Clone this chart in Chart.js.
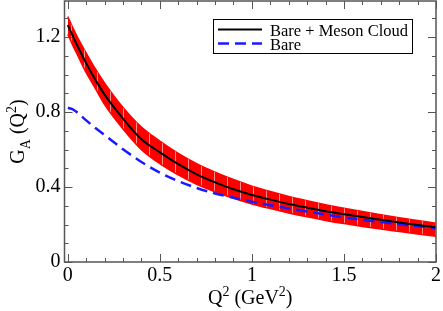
<!DOCTYPE html>
<html>
<head>
<meta charset="utf-8">
<script src="https://cdn.jsdelivr.net/npm/chart.js@4.4.1/dist/chart.umd.min.js"></script>
<style>
  html, body { margin: 0; padding: 0; background: #fff; }
  #wrap { width: 443px; height: 311px; }
</style>
</head>
<body>
<div id="wrap"><canvas id="chart"></canvas></div>
<script>
const qValues = [0, 0.025, 0.05, 0.1, 0.15, 0.2, 0.3, 0.4, 0.5, 0.6, 0.7, 0.8, 0.9, 1.0, 1.1, 1.2, 1.3, 1.4, 1.5, 1.6, 1.7, 1.8, 1.9, 2.0];
const fullValues = [1.265, 1.21, 1.158, 1.06, 0.972, 0.893, 0.765, 0.655, 0.585, 0.522, 0.468, 0.425, 0.388, 0.358, 0.333, 0.31, 0.29, 0.271, 0.255, 0.24, 0.225, 0.211, 0.198, 0.186];
const bareValues = [0.823, 0.816, 0.799, 0.756, 0.715, 0.678, 0.602, 0.534, 0.477, 0.432, 0.395, 0.366, 0.343, 0.322, 0.303, 0.286, 0.269, 0.253, 0.238, 0.225, 0.213, 0.202, 0.191, 0.18];
const bandUpper = [1.31, 1.255, 1.205, 1.115, 1.03, 0.955, 0.825, 0.72, 0.645, 0.58, 0.525, 0.48, 0.44, 0.405, 0.376, 0.35, 0.327, 0.306, 0.287, 0.269, 0.252, 0.236, 0.221, 0.207];
const bandLower = [1.215, 1.16, 1.11, 1.01, 0.925, 0.84, 0.71, 0.6, 0.525, 0.465, 0.415, 0.375, 0.34, 0.31, 0.285, 0.262, 0.241, 0.222, 0.205, 0.19, 0.176, 0.163, 0.15, 0.138];

const xTicks = [0, 0.5, 1, 1.5, 2];
const yTicks = [0, 0.4, 0.8, 1.2];
const xMinor = 0.1;
const yMinor = 0.1;

const FONT = "'Liberation Serif', 'Times New Roman', serif";

const pts = (ys) => qValues.map((q, i) => ({ x: q, y: ys[i] }));

// red band with faint vertical streaks
function hatch() {
  const c = document.createElement("canvas");
  c.width = 13; c.height = 4;
  const g = c.getContext("2d");
  g.fillStyle = "#ff0000";
  g.fillRect(0, 0, 13, 4);
  g.fillStyle = "#ff8c8c";
  g.fillRect(6, 0, 1, 4);
  return g.createPattern(c, "repeat");
}

function richText(ctx, parts, x, y, size) {
  const small = Math.round(size * 0.68);
  let w = 0;
  parts.forEach((p) => {
    ctx.font = (p.sub || p.sup ? small : size) + "px " + FONT;
    p.w = ctx.measureText(p.t).width;
    w += p.w;
  });
  let cx = x - w / 2;
  parts.forEach((p) => {
    ctx.font = (p.sub || p.sup ? small : size) + "px " + FONT;
    let dy = 0;
    if (p.sub) dy = size * 0.3;
    if (p.sup) dy = -size * 0.42;
    ctx.fillText(p.t, cx, y + dy);
    cx += p.w;
  });
}

const framePlugin = {
  id: "frame",
  afterDraw(chart) {
    const { ctx, chartArea: a, scales } = chart;
    const xs = scales.x, ys = scales.y;
    ctx.save();
    ctx.strokeStyle = "#555";
    ctx.lineWidth = 1.5;
    ctx.strokeRect(a.left, a.top, a.right - a.left, a.bottom - a.top);

    ctx.lineWidth = 1;
    ctx.beginPath();
    for (let v = 0; v <= 2.0001; v += xMinor) {
      const px = Math.round(xs.getPixelForValue(v)) + 0.5;
      const major = xTicks.some((t) => Math.abs(t - v) < 1e-6);
      const len = major ? 8 : 4;
      ctx.moveTo(px, a.bottom); ctx.lineTo(px, a.bottom - len);
      ctx.moveTo(px, a.top); ctx.lineTo(px, a.top + len);
    }
    for (let v = 0; v <= ys.max + 1e-6; v += yMinor) {
      const py = Math.round(ys.getPixelForValue(v)) + 0.5;
      const major = yTicks.some((t) => Math.abs(t - v) < 1e-6);
      const len = major ? 8 : 4;
      ctx.moveTo(a.left, py); ctx.lineTo(a.left + len, py);
      ctx.moveTo(a.right, py); ctx.lineTo(a.right - len, py);
    }
    ctx.stroke();

    // axis titles
    ctx.fillStyle = "#000";
    ctx.textBaseline = "alphabetic";
    ctx.textAlign = "left";
    richText(ctx, [{ t: "Q" }, { t: "2", sup: true }, { t: " (GeV" }, { t: "2", sup: true }, { t: ")" }],
      (a.left + a.right) / 2, 304, 20);
    ctx.save();
    ctx.translate(24, (a.top + a.bottom) / 2);
    ctx.rotate(-Math.PI / 2);
    richText(ctx, [{ t: "G" }, { t: "A", sub: true }, { t: " (Q" }, { t: "2", sup: true }, { t: ")" }], 0, 0, 20);
    ctx.restore();

    // legend
    const lx = 213.5, ly = 19.5, lw = 199, lh = 34;
    ctx.fillStyle = "#fff";
    ctx.fillRect(lx, ly, lw, lh);
    ctx.strokeStyle = "#000";
    ctx.lineWidth = 1;
    ctx.strokeRect(lx, ly, lw, lh);
    const entries = [chart.data.datasets[0], chart.data.datasets[1]];
    entries.forEach((ds, i) => {
      const y = 29.5 + i * 14;
      ctx.strokeStyle = ds.borderColor;
      ctx.lineWidth = ds.borderWidth;
      ctx.setLineDash(ds.borderDash || []);
      ctx.beginPath();
      ctx.moveTo(218, y); ctx.lineTo(262, y);
      ctx.stroke();
      ctx.setLineDash([]);
      ctx.fillStyle = "#000";
      ctx.font = "16.5px " + FONT;
      ctx.fillText(ds.label, 270, y + 6);
    });
    ctx.restore();
  },
};

new Chart(document.getElementById("chart"), {
  type: "line",
  data: {
    datasets: [
      {
        label: "Bare + Meson Cloud",
        data: pts(fullValues),
        borderColor: "#000000",
        borderWidth: 2,
        pointRadius: 0,
        cubicInterpolationMode: "monotone",
        fill: false,
        order: 0,
      },
      {
        label: "Bare",
        data: pts(bareValues),
        borderColor: "#1a1aff",
        borderWidth: 2.5,
        borderDash: [11, 6],
        pointRadius: 0,
        cubicInterpolationMode: "monotone",
        fill: false,
        order: 1,
      },
      {
        label: "upper",
        data: pts(bandUpper),
        borderColor: "#ff0000",
        borderWidth: 1.5,
        pointRadius: 0,
        cubicInterpolationMode: "monotone",
        fill: false,
        order: 3,
      },
      {
        label: "lower",
        data: pts(bandLower),
        borderColor: "#ff0000",
        borderWidth: 1.5,
        backgroundColor: hatch(),
        pointRadius: 0,
        cubicInterpolationMode: "monotone",
        fill: "-1",
        order: 2,
      },
    ],
  },
  options: {
    responsive: true,
    maintainAspectRatio: false,
    animation: false,
    layout: { padding: { top: 1, right: 7, left: 0, bottom: 0 } },
    plugins: { legend: { display: false }, tooltip: { enabled: false } },
    scales: {
      x: {
        type: "linear",
        min: -0.018,
        max: 2,
        grid: { display: false, drawTicks: false },
        border: { display: false },
        afterBuildTicks: (s) => { s.ticks = xTicks.map((v) => ({ value: v })); },
        afterFit: (s) => { s.height = 49; s.paddingLeft = 0; s.paddingRight = 0; },
        ticks: {
          padding: 2,
          color: "#000",
          font: { family: FONT, size: 20 },
          maxRotation: 0,
          callback: (v) => String(v),
        },
      },
      y: {
        min: 0,
        max: 1.393,
        grid: { display: false, drawTicks: false },
        border: { display: false },
        afterBuildTicks: (s) => { s.ticks = yTicks.map((v) => ({ value: v })); },
        afterFit: (s) => { s.width = 64.5; s.paddingTop = 0; s.paddingBottom = 0; },
        ticks: {
          padding: 4,
          color: "#000",
          font: { family: FONT, size: 20 },
          callback: (v) => String(v),
        },
      },
    },
  },
  plugins: [framePlugin],
});
</script>
</body>
</html>
